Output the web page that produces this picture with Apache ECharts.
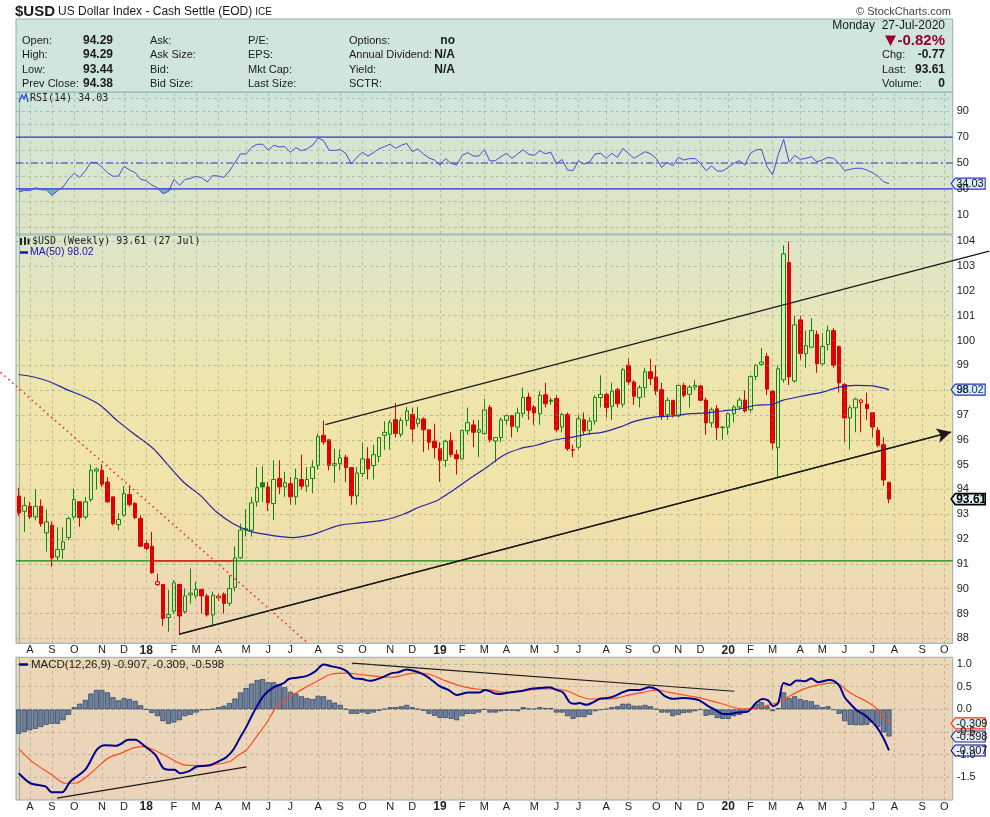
<!DOCTYPE html>
<html><head><meta charset="utf-8">
<script src="https://cdn.jsdelivr.net/npm/echarts@6/dist/echarts.min.js"></script>
<style>html,body{margin:0;padding:0;background:#fff}#c{width:990px;height:817px}</style>
</head><body><div id="c"></div>
<script>
// ---------------- data ----------------
const START_WEEK = [2017, 6, 24];   // Monday 24-Jul-2017 (month is 0-based)
const WEEK_COUNT = 169;             // weekly slots on the axis (through mid Oct 2020)
const MONTH_LETTERS = ['J','F','M','A','M','J','J','A','S','O','N','D'];

// weekly candles: [open, high, low, close]
const weeklyOHLC = [
[93.73,94.07,92.92,93.05],[93.12,93.70,92.29,93.35],[93.32,93.50,92.80,92.89],[92.89,94.00,92.76,93.32],[93.32,93.60,92.50,92.62],
[92.25,93.19,91.49,92.69],[92.56,92.70,90.88,91.24],[91.28,92.47,91.15,91.58],[91.58,92.47,91.20,91.89],[92.06,92.90,91.95,92.83],
[92.89,94.03,92.79,93.59],[93.50,93.50,92.49,92.87],[92.89,93.70,92.80,93.50],[93.59,95.00,93.50,94.77],[94.74,94.88,94.00,94.82],
[94.77,95.00,94.10,94.21],[94.30,94.50,93.45,93.50],[93.70,93.70,92.55,92.62],[92.58,93.03,92.36,92.79],[92.96,94.13,92.90,93.83],
[93.79,94.17,93.30,93.39],[93.43,93.50,92.80,92.87],[92.83,92.96,91.70,91.71],[91.82,91.95,91.55,91.62],[91.71,92.29,90.60,90.64],
[90.17,90.60,90.10,90.28],[90.17,90.17,88.50,88.80],[88.84,89.94,88.27,88.96],[89.10,90.35,89.00,90.24],[90.17,90.20,88.13,88.90],
[89.07,90.00,89.00,89.71],[89.75,90.81,89.40,89.82],[89.71,90.28,89.60,89.97],[89.97,90.00,89.00,89.71],[89.71,89.80,88.87,88.94],
[88.94,89.88,88.47,89.74],[89.63,89.80,89.50,89.70],[89.78,89.85,89.00,89.41],[89.41,90.55,89.30,90.01],[90.05,91.70,89.90,91.24],
[91.24,92.62,91.20,92.36],[92.36,93.20,92.10,92.42],[92.36,93.70,92.10,93.46],[93.50,94.90,93.30,94.07],[94.27,94.94,93.50,94.10],
[94.10,94.30,93.13,93.46],[93.43,95.17,92.76,94.40],[94.44,95.17,93.80,94.10],[94.10,94.70,93.70,94.27],[94.23,94.50,93.38,93.70],
[93.70,94.84,93.38,94.44],[94.40,95.40,94.00,94.13],[94.13,94.90,93.90,94.40],[94.44,95.17,93.84,94.90],[94.97,96.25,94.80,96.14],
[96.18,96.78,95.80,95.91],[96.00,96.00,94.77,94.97],[94.97,95.64,94.27,95.04],[95.04,95.60,94.77,95.27],[95.30,95.40,94.30,94.88],
[94.88,94.90,93.38,93.74],[93.74,94.90,93.38,94.66],[94.64,95.90,94.50,95.23],[95.23,95.70,94.40,94.82],[94.96,95.80,94.40,95.40],
[95.33,96.10,95.10,96.09],[96.18,96.75,95.60,96.30],[96.22,96.80,95.60,96.69],[96.81,97.48,96.10,96.25],[96.22,96.90,96.10,96.78],
[96.78,97.33,96.55,97.16],[97.02,97.30,95.90,96.43],[96.65,97.33,96.50,96.84],[96.84,96.90,95.50,96.40],[96.40,96.40,95.60,95.90],
[95.94,96.65,95.25,95.68],[95.64,95.90,94.30,95.17],[95.17,96.00,94.90,95.94],[95.98,96.30,95.30,95.41],[95.40,95.60,94.60,95.23],
[95.23,96.40,95.20,96.38],[96.36,97.30,96.20,96.69],[96.60,96.80,95.70,96.30],[96.30,96.80,95.30,96.40],[96.25,97.65,96.20,97.20],
[97.30,97.40,95.90,96.00],[95.95,96.10,95.10,96.09],[96.09,96.90,95.90,96.80],[96.78,97.00,96.60,96.97],[96.97,97.00,96.10,96.54],
[96.51,97.30,96.30,97.08],[97.05,98.10,96.90,97.70],[97.72,97.90,96.80,97.19],[97.32,97.40,96.60,97.08],[97.05,97.95,96.60,97.79],
[97.81,98.30,97.30,97.45],[97.60,97.70,97.40,97.55],[97.66,97.80,96.30,96.40],[96.51,97.10,96.30,97.02],[97.02,97.10,95.55,95.64],
[95.58,95.80,95.30,95.60],[95.70,97.00,95.60,96.85],[96.81,97.10,96.20,96.35],[96.38,96.90,96.20,96.75],[96.75,97.80,96.60,97.70],
[97.70,98.60,97.30,97.83],[97.83,97.90,96.90,97.30],[97.35,98.30,96.80,97.96],[98.02,98.10,97.30,97.45],[97.43,98.90,97.30,98.82],
[99.00,99.30,98.20,98.33],[98.33,98.40,97.40,97.75],[97.70,98.20,97.30,98.10],[98.10,98.90,97.70,98.74],[98.74,99.26,98.20,98.46],
[98.53,99.00,97.80,97.96],[98.02,98.30,96.80,96.96],[97.01,97.70,96.80,97.59],[97.59,97.60,96.90,97.01],[96.96,98.20,96.90,98.19],
[98.19,98.30,97.70,97.79],[97.83,98.20,97.30,98.12],[98.12,98.40,98.00,98.19],[98.17,98.20,97.56,97.59],[97.60,97.70,96.20,96.68],
[96.68,97.30,96.50,97.21],[97.25,97.40,96.00,96.49],[96.51,96.55,96.00,96.49],[96.51,97.10,96.20,97.05],[97.05,97.40,96.70,97.32],
[97.32,97.70,97.20,97.60],[97.60,98.00,97.10,97.16],[97.21,98.60,97.10,98.55],[98.55,99.05,98.40,99.00],[99.04,99.70,99.00,99.13],
[99.36,99.50,97.80,98.04],[97.96,98.00,95.60,95.87],[95.68,99.00,94.50,98.86],[98.42,103.83,98.30,103.49],[103.14,103.99,98.20,98.53],
[98.37,101.00,98.30,100.63],[100.83,101.00,99.20,99.47],[99.47,100.40,98.90,99.79],[99.73,100.90,99.70,100.40],[100.24,100.40,98.70,99.06],
[99.06,100.30,99.00,99.76],[99.84,100.60,99.60,100.40],[100.40,100.50,98.90,99.00],[99.76,99.80,97.90,98.29],[98.23,98.30,95.90,96.88],
[96.88,97.40,95.60,97.29],[97.29,97.70,96.30,97.64],[97.50,97.65,96.30,97.60],[97.43,97.90,96.80,97.25],[97.09,97.10,96.10,96.51],
[96.38,96.50,95.70,95.78],[95.80,96.10,94.15,94.38],[94.29,94.29,93.44,93.61]
];

// 50-week moving average, [week index, value]
const ma50 = [[0,98.63],[2.7,98.53],[5.7,98.33],[8.7,98.02],[11.7,97.75],[14.7,97.39],[17.7,96.78],[20.7,96.25],[24.3,95.64],[26.7,95.04],
[29.7,94.30],[32.7,93.77],[35.7,93.09],[38.7,92.62],[41.7,92.32],[44.8,92.18],[47.7,92.09],[49.5,92.06],[52.6,92.16],[54.4,92.29],
[58,92.56],[61.5,92.65],[65.8,92.76],[69.4,93.0],[72.4,93.3],[75.4,93.54],[78.4,93.97],[81.4,94.44],[84.4,94.88],[87.4,95.37],
[90.4,95.64],[93.4,95.78],[96.4,95.98],[99.4,96.09],[102.4,96.22],[105.4,96.31],[108.4,96.51],[111.4,96.76],[115,96.92],[118,96.96],
[121,97.05],[124,97.08],[127,97.16],[130,97.24],[133,97.39],[136,97.43],[137.8,97.59],[142,97.79],[145,97.92],[148,98.12],
[151,98.19],[154,98.17],[157,98.02]];

// RSI(14), one value per week
const rsi14 = [27.5,28.8,28.6,30.9,29.3,29.1,24.9,28.5,31.5,37.6,42.0,38.9,43.8,50.5,50.3,46.9,42.5,39.7,39.9,47.4,
44.6,42.5,37.3,36.3,32.9,30.9,26.2,28.0,37.3,32.7,37.3,38.1,39.7,38.6,35.3,40.2,39.9,38.9,43.8,50.3,
57.0,57.0,62.1,64.5,64.5,59.8,63.7,62.4,62.7,58.3,61.9,59.6,60.9,63.7,69.4,67.3,59.8,59.8,60.3,57.5,
49.2,54.4,58.3,55.4,58.0,61.1,62.7,64.5,61.4,63.7,65.2,58.8,60.9,57.0,53.9,52.3,48.4,53.4,49.7,48.4,
55.9,58.0,55.4,55.4,60.3,51.6,51.8,55.0,57.5,53.6,57.0,60.3,56.7,55.9,59.6,57.2,58.3,49.2,52.8,44.6,
44.1,51.8,49.2,51.0,57.0,57.5,53.6,57.5,54.4,61.4,57.5,53.6,56.2,58.8,57.0,53.6,46.6,50.5,47.7,54.4,
52.3,53.4,53.4,49.7,44.1,47.7,43.8,43.8,46.6,49.7,51.8,48.4,57.5,60.1,60.6,47.2,40.7,56.2,68.3,50.5,
55.9,52.8,53.6,54.9,51.0,52.3,54.4,53.6,49.7,44.1,45.1,45.9,45.9,44.6,42.5,39.9,35.5,34.03];

// MACD(12,26,9): lines as [week index, value], histogram one value per week
const macdLine = [[0,-1.41],[2.1,-1.63],[4.8,-1.70],[6.0,-1.83],[7.8,-1.83],[9.3,-1.59],[12.0,-1.33],[14.1,-0.89],[15.6,-0.79],[17.7,-0.80],
[19.8,-0.67],[21.0,-0.67],[22.8,-0.82],[24.6,-1.00],[26.1,-1.30],[27.0,-1.33],[28.1,-1.33],[29.1,-1.41],[30.9,-1.35],[32.1,-1.26],
[34.2,-1.24],[36.0,-1.15],[37.5,-1.05],[38.7,-0.89],[39.9,-0.63],[41.1,-0.375],[42.3,-0.08],[44.1,0.29],[46.0,0.49],[47.8,0.58],
[48.7,0.67],[50.2,0.70],[52.0,0.74],[53.5,0.84],[55.0,0.99],[56.5,0.95],[58.0,0.91],[59.2,0.84],[60.4,0.69],[61.9,0.67],
[63.4,0.63],[65.2,0.69],[67.3,0.80],[68.5,0.82],[70.0,0.88],[72.1,0.82],[73.6,0.73],[74.8,0.62],[76.0,0.51],[77.5,0.43],
[79.0,0.32],[81.1,0.375],[83.2,0.375],[84.1,0.43],[85.0,0.40],[85.9,0.35],[86.8,0.34],[88.6,0.375],[90.4,0.40],[92.2,0.45],
[94.0,0.47],[95.8,0.49],[97.0,0.43],[98.2,0.375],[99.4,0.155],[100.3,0.125],[101.2,0.14],[102.4,0.10],[103.6,0.155],[104.8,0.235],
[106.3,0.25],[107.8,0.31],[109.0,0.38],[110.2,0.43],[112.0,0.43],[113.8,0.49],[115.3,0.43],[116.5,0.30],[118.0,0.235],[119.8,0.25],
[121.6,0.235],[122.8,0.20],[124.3,0.08],[125.8,-0.02],[127.0,-0.10],[128.2,-0.10],[129.7,-0.07],[131.5,-0.05],[133.0,0.14],[134.2,0.23],
[135.2,0.20],[136.1,0.07],[137.0,0.14],[138.0,0.58],[139.1,0.54],[140.3,0.64],[141.8,0.62],[143.0,0.68],[144.2,0.60],[145.1,0.62],
[146.1,0.65],[147.2,0.62],[148.1,0.51],[149.0,0.27],[150.2,0.10],[151.1,-0.01],[152.9,-0.15],[154.7,-0.375],[155.9,-0.61],[157,-0.907]];
const signalLine = [[0,-0.87],[2.7,-1.18],[5.7,-1.42],[8.4,-1.63],[10.2,-1.63],[12.3,-1.48],[14.7,-1.22],[16.2,-1.07],[18.6,-0.96],[20.7,-0.85],
[22.5,-0.82],[24.3,-0.89],[26.7,-1.04],[29.7,-1.22],[32.1,-1.24],[35.1,-1.22],[38.1,-1.15],[39.3,-1.04],[41.1,-0.89],[42.9,-0.60],
[44.7,-0.30],[46.6,0.07],[49.0,0.29],[50.8,0.42],[53.8,0.62],[56.2,0.77],[59.2,0.80],[61.6,0.77],[64.6,0.73],[67.3,0.71],
[68.8,0.74],[71.2,0.80],[74.2,0.77],[76.6,0.65],[79.6,0.52],[82.6,0.45],[85.0,0.43],[87.4,0.38],[89.8,0.40],[92.2,0.43],
[94.6,0.45],[97.0,0.45],[99.1,0.40],[101.2,0.29],[103.0,0.23],[105.4,0.23],[107.8,0.25],[110.2,0.32],[112.6,0.375],[115.0,0.43],
[117.4,0.375],[119.8,0.32],[122.2,0.27],[124.6,0.20],[127.0,0.12],[129.4,0.03],[131.2,0.01],[133.0,0.03],[134.8,0.08],[136.7,0.14],
[138.5,0.25],[140.3,0.375],[142.1,0.47],[144.2,0.54],[146.3,0.58],[147.8,0.57],[149.3,0.43],[151.1,0.29],[152.9,0.18],[154.7,0.03],
[155.9,-0.15],[157,-0.309]];
const macdHist = [-0.54,-0.50,-0.46,-0.43,-0.39,-0.34,-0.32,-0.32,-0.24,-0.12,
0.05,0.125,0.21,0.35,0.43,0.43,0.375,0.27,0.20,0.25,
0.23,0.19,0.09,0.0,-0.08,-0.15,-0.26,-0.32,-0.29,-0.24,
-0.15,-0.12,-0.07,-0.02,-0.01,0.01,0.05,0.08,0.14,0.24,
0.375,0.47,0.57,0.65,0.67,0.60,0.60,0.55,0.49,0.39,
0.35,0.29,0.25,0.23,0.30,0.29,0.21,0.15,0.10,0.01,
-0.10,-0.10,-0.07,-0.10,-0.07,-0.03,0.01,0.05,0.05,0.07,
0.10,0.05,0.01,-0.03,-0.10,-0.14,-0.19,-0.19,-0.21,-0.24,
-0.15,-0.10,-0.10,-0.07,0.0,-0.07,-0.07,-0.04,-0.03,-0.03,
-0.04,0.05,0.02,0.01,0.05,0.03,0.03,-0.07,-0.07,-0.15,
-0.21,-0.17,-0.17,-0.12,-0.04,-0.01,0.01,0.05,0.07,0.125,
0.125,0.08,0.08,0.10,0.07,0.01,-0.07,-0.07,-0.15,-0.12,
-0.08,-0.07,-0.04,-0.01,-0.14,-0.12,-0.19,-0.21,-0.21,-0.15,
-0.12,-0.07,0.03,0.125,0.16,0.07,-0.04,0.03,0.375,0.25,
0.29,0.23,0.20,0.18,0.10,0.05,0.07,-0.01,-0.10,-0.26,
-0.34,-0.35,-0.35,-0.34,-0.29,-0.39,-0.51,-0.598];

// drawn annotations, endpoints as [week index, value]
const priceLevel = 91.12;
const redLevel = [[24, 91.12],[38.7, 91.12]];
const downTrendDotted = [[-3.3, 98.72],[52.2, 87.8]];
const channelUpper = [[55.3, 96.61],[175.1, 103.6]];
const channelLower = [[29, 88.17],[168.2, 96.31]];
const macdTrendLow = [[6.9, -1.96],[41.1, -1.27]];
const macdTrendHigh = [[60.1, 1.02],[129.1, 0.40]];
const rsiBands = {upper: 70, mid: 50, lower: 30};

// axis tick labels
const priceTicks = [88,89,90,91,92,93,94,95,96,97,98,99,100,101,102,103,104];
const rsiTicks = [10,30,50,70,90];
const rsiGrid = [0,10,20,30,40,50,60,70,80,90,100];
const macdTicks = [1.0,0.5,0.0,-0.5,-1.0,-1.5];

// header values
const header = {open:'94.29', high:'94.29', low:'93.44', prev:'94.38', date:'Monday  27-Jul-2020',
  pct:'-0.82%', chg:'-0.77', last:'93.61', volume:'0', rsi:'34.03', ma:'98.02',
  macd:'-0.907', signal:'-0.309', hist:'-0.598'};

// ---------------- layout ----------------
const L = 16, R = 37.3;
const PLOT_R = 990 - R;
const G_RSI = {top: 92, height: 142};
const G_PX = {top: 235, height: 408.3};
const G_MACD = {top: 657.3, height: 142.7};
const FONT = '"Liberation Sans", Arial, sans-serif';
const MONO = '"DejaVu Sans Mono", "Liberation Mono", monospace';

// categories (weekly Mondays)
const categories = [], monthStart = [], monthLabel = [];
for (let i = 0; i < WEEK_COUNT; i++) {
  const d = new Date(Date.UTC(START_WEEK[0], START_WEEK[1], START_WEEK[2] + 7 * i));
  categories.push(d.toISOString().slice(0, 10));
  let lab = '';
  if (i > 0) {
    const p = new Date(Date.UTC(START_WEEK[0], START_WEEK[1], START_WEEK[2] + 7 * (i - 1)));
    if (p.getUTCMonth() !== d.getUTCMonth()) {
      const m = d.getUTCMonth();
      lab = m === 0 ? '{y|' + String(d.getUTCFullYear()).slice(2) + '}' : MONTH_LETTERS[m];
    }
  }
  monthStart.push(lab !== '');
  monthLabel.push(lab);
}
const monthIdx = monthStart.map((v, i) => v ? i : -1).filter(i => i >= 0);
const X_MIN = -0.5, X_MAX = WEEK_COUNT - 0.5;

const gridLineStyle = {color: 'rgba(110,140,120,0.42)', type: [3, 3], width: 1};

function catAxis(gridIndex, showLabels) {
  return {type: 'category', gridIndex, data: categories, boundaryGap: true,
    axisLine: {show: false}, axisTick: {show: false}, splitLine: {show: false},
    axisLabel: {show: showLabels, interval: (i) => monthStart[i], formatter: (v, i) => monthLabel[i],
      margin: 1, color: '#222', fontFamily: FONT, fontSize: 11,
      rich: {y: {fontWeight: 'bold', fontSize: 12, color: '#222', fontFamily: FONT}}}};
}
function valAxisX(gridIndex) {
  return {type: 'value', gridIndex, min: X_MIN, max: X_MAX, show: false};
}
function yAxisCfg(gridIndex, min, max, interval, ticks, fmt) {
  return {type: 'value', gridIndex, position: 'right', min, max, interval, scale: false,
    axisLine: {show: true, lineStyle: {color: '#8fb0b0'}}, axisTick: {show: false}, splitLine: {show: false},
    axisLabel: {margin: 4, color: '#222', fontFamily: FONT, fontSize: 11, showMinLabel: true, showMaxLabel: true,
      formatter: (v) => { const t = ticks.find(k => Math.abs(k - v) < 1e-6); return t === undefined ? '' : fmt(t); }}};
}
function gridSeries(xAxisIndex, yAxisIndex, yValues) {
  return {type: 'line', xAxisIndex, yAxisIndex, data: [], silent: true, z: 1,
    markLine: {silent: true, symbol: 'none', animation: false, label: {show: false}, lineStyle: gridLineStyle,
      data: yValues.map(v => ({yAxis: v})).concat(monthIdx.map(i => ({xAxis: i})))}};
}
function seg(xAxisIndex, yAxisIndex, data, style, extra) {
  return Object.assign({type: 'line', xAxisIndex, yAxisIndex, data, showSymbol: false, symbol: 'none',
    silent: true, lineStyle: style, itemStyle: {color: style.color}, z: 4}, extra || {});
}
const hLine = (v) => [[X_MIN, v], [X_MAX, v]];

// candles with StockCharts colouring
const GREEN = '#0a8a0a', RED = '#e00000';
const candleData = weeklyOHLC.map((r, i) => {
  const [o, h, l, c] = r;
  const prev = i > 0 ? weeklyOHLC[i - 1][3] : o;
  const col = c >= prev ? GREEN : RED;
  const fill = c >= o ? 'rgba(0,0,0,0)' : col;
  return {value: [o, c, l, h], itemStyle: {color: fill, color0: fill, borderColor: col, borderColor0: col, borderColorDoji: col, borderWidth: 1}};
});

const bg = (stops) => ({type: 'linear', x: 0, y: 0, x2: 0, y2: 1, colorStops: stops});
const RSI_REF = '#3030cc';

const option = {
  animation: false,
  backgroundColor: '#ffffff',
  grid: [
    Object.assign({left: L, right: R, show: true, borderColor: '#8fb0b0', borderWidth: 1, containLabel: false, outerBoundsMode: 'none',
      backgroundColor: bg([{offset: 0, color: '#cfe6dc'}, {offset: 1, color: '#dfe4c2'}])}, G_RSI),
    Object.assign({left: L, right: R, show: true, borderColor: '#8fb0b0', borderWidth: 1, containLabel: false, outerBoundsMode: 'none',
      backgroundColor: bg([{offset: 0, color: '#dde6ca'}, {offset: 0.35, color: '#eee5ae'}, {offset: 0.6, color: '#f1e4a8'}, {offset: 0.8, color: '#eedcb0'}, {offset: 1, color: '#ecd6b8'}])}, G_PX),
    Object.assign({left: L, right: R, show: true, borderColor: '#8fb0b0', borderWidth: 1, containLabel: false, outerBoundsMode: 'none',
      backgroundColor: bg([{offset: 0, color: '#ecd7b6'}, {offset: 1, color: '#ebd3ba'}])}, G_MACD)
  ],
  xAxis: [catAxis(0, false), valAxisX(0), catAxis(1, true), valAxisX(1), catAxis(2, true), valAxisX(2)],
  yAxis: [
    yAxisCfg(0, -5, 105, 5, rsiTicks, t => String(t)),
    yAxisCfg(1, 87.8, 104.25, 0.05, priceTicks, t => String(t)),
    yAxisCfg(2, -2.0, 1.15, 0.05, macdTicks, t => t.toFixed(1))
  ],
  series: [
    // ---- RSI ----
    gridSeries(1, 0, rsiGrid),
    seg(1, 0, hLine(rsiBands.upper), {color: RSI_REF, width: 1.2}, {z: 2}),
    seg(1, 0, hLine(rsiBands.lower), {color: RSI_REF, width: 1.2}, {z: 2}),
    seg(1, 0, hLine(rsiBands.mid), {color: RSI_REF, width: 1.2, type: [7, 3, 2, 3]}, {z: 2}),
    {type: 'line', xAxisIndex: 0, yAxisIndex: 0, data: rsi14.map(v => Math.min(v, 30)), showSymbol: false, symbol: 'none',
      lineStyle: {width: 0, opacity: 0}, areaStyle: {origin: 30, color: '#63b2c2', opacity: 0.9}, silent: true, z: 2},
    {type: 'line', xAxisIndex: 0, yAxisIndex: 0, data: rsi14, showSymbol: false, symbol: 'none', silent: true, z: 3,
      lineStyle: {color: '#4747dd', width: 1}},
    // ---- price ----
    gridSeries(3, 1, priceTicks),
    seg(3, 1, hLine(priceLevel), {color: '#108810', width: 1.3}, {z: 2}),
    {type: 'candlestick', xAxisIndex: 2, yAxisIndex: 1, data: candleData, barWidth: 4, silent: true, z: 3},
    {type: 'line', xAxisIndex: 3, yAxisIndex: 1, data: ma50, showSymbol: false, symbol: 'none', smooth: 0.3, silent: true, z: 4,
      lineStyle: {color: '#2424a8', width: 1.2}},
    seg(3, 1, redLevel, {color: '#ee1111', width: 1.3}),
    seg(3, 1, channelLower, {color: '#1a1a1a', width: 1.3}, {
      markLine: {silent: true, symbol: ['none', 'arrow'], symbolSize: [11, 14], label: {show: false}, animation: false,
        lineStyle: {color: '#1a1a1a', width: 1.3, type: 'solid'},
        data: [[{coord: channelLower[0]}, {coord: channelLower[1]}]]}}),
    // ---- MACD ----
    gridSeries(5, 2, macdTicks),
    {type: 'bar', xAxisIndex: 4, yAxisIndex: 2, data: macdHist, barCategoryGap: '8%', silent: true, z: 2,
      itemStyle: {color: '#6e809b', borderColor: '#34476b', borderWidth: 0.8}},
    {type: 'line', xAxisIndex: 5, yAxisIndex: 2, data: signalLine, showSymbol: false, symbol: 'none', smooth: 0.3, silent: true, z: 4,
      lineStyle: {color: '#ff4a1a', width: 1.2}},
    {type: 'line', xAxisIndex: 5, yAxisIndex: 2, data: macdLine, showSymbol: false, symbol: 'none', smooth: 0.3, silent: true, z: 5,
      lineStyle: {color: '#000090', width: 2}},
    seg(5, 2, macdTrendLow, {color: '#1a1a1a', width: 1.2}),
    seg(5, 2, macdTrendHigh, {color: '#1a1a1a', width: 1.2})
  ]
};

const chart = echarts.init(document.getElementById('c'), null, {renderer: 'canvas'});
chart.setOption(option);

// ---------------- header, labels, value tags ----------------
function txt(x, y, text, o) {
  o = o || {};
  return {type: 'text', silent: true, z: 100, style: {x, y, text, fill: o.fill || '#1a1a1a',
    font: o.font || ('11px ' + FONT), textAlign: o.align || 'left', align: o.align || 'left',
    textVerticalAlign: 'middle', verticalAlign: 'middle', rich: o.rich}};
}
function tag(yPx, text, border, fill, color, bold) {
  const x0 = PLOT_R - 1.5, w = 34, h = 5.5;
  return {type: 'group', silent: true, z: 110, children: [
    {type: 'polygon', shape: {points: [[x0, yPx], [x0 + 4, yPx - h], [x0 + w, yPx - h], [x0 + w, yPx + h], [x0 + 4, yPx + h]]},
      style: {fill, stroke: border, lineWidth: bold ? 1.6 : 1.1}},
    {type: 'text', style: {x: x0 + 5, y: yPx + 0.5, text, fill: color, font: (bold ? 'bold 12px ' : '11px ') + FONT,
      textAlign: 'left', align: 'left', textVerticalAlign: 'middle', verticalAlign: 'middle'}}]};
}
// extended annotation lines (mapped through the price panel's scales; they run past the plot edges)
function dataLine(xAx, yAx, pts, style) {
  const p = pts.map(q => [chart.convertToPixel({xAxisIndex: xAx}, q[0]), chart.convertToPixel({yAxisIndex: yAx}, q[1])]);
  return {type: 'line', silent: true, z: 60, shape: {x1: p[0][0], y1: p[0][1], x2: p[1][0], y2: p[1][1]}, style};
}
const g = [];
g.push(dataLine(3, 1, downTrendDotted, {stroke: '#ee3333', lineWidth: 1.6, lineDash: [1.6, 3.6]}));
g.push(dataLine(3, 1, channelUpper, {stroke: '#1a1a1a', lineWidth: 1.3}));
// header
g.push(txt(15, 12, '{a|$USD} {b|US Dollar Index - Cash Settle (EOD)} {c|ICE}', {rich: {
  a: {fontWeight: 'bold', fontSize: 15, fontFamily: FONT, color: '#1a1a1a'},
  b: {fontSize: 12, fontFamily: FONT, color: '#1a1a1a'},
  c: {fontSize: 10, fontFamily: FONT, color: '#1a1a1a'}}}));
g.push(txt(951, 12, '© StockCharts.com', {align: 'right', fill: '#444', font: '11px ' + FONT}));
g.push({type: 'rect', silent: true, z: 90, shape: {x: L, y: 19, width: PLOT_R - L, height: 73}, style: {fill: '#cfe6dc', stroke: '#8fb0b0', lineWidth: 1}});
const rows = [41, 55, 70, 84];
const c1 = ['Open:', 'High:', 'Low:', 'Prev Close:'], v1 = [header.open, header.high, header.low, header.prev];
const c2 = ['Ask:', 'Ask Size:', 'Bid:', 'Bid Size:'], c3 = ['P/E:', 'EPS:', 'Mkt Cap:', 'Last Size:'];
const c4 = ['Options:', 'Annual Dividend:', 'Yield:', 'SCTR:'], v4 = ['no', 'N/A', 'N/A', ''];
rows.forEach((y, i) => {
  g.push(txt(22, y, c1[i]));
  g.push(txt(113, y, v1[i], {align: 'right', font: 'bold 12px ' + FONT}));
  g.push(txt(150, y, c2[i]));
  g.push(txt(248, y, c3[i]));
  g.push(txt(349, y, c4[i]));
  if (v4[i]) g.push(txt(455, y, v4[i], {align: 'right', font: 'bold 12px ' + FONT}));
});
g.push(txt(945, 26, header.date, {align: 'right', font: '12px ' + FONT}));
g.push({type: 'polygon', silent: true, z: 100, shape: {points: [[885, 35.5], [896, 35.5], [890.5, 46]]}, style: {fill: '#990033'}});
g.push(txt(945, 41, header.pct, {align: 'right', font: 'bold 15px ' + FONT, fill: '#990033'}));
g.push(txt(882, 55, 'Chg:')); g.push(txt(945, 55, header.chg, {align: 'right', font: 'bold 12px ' + FONT}));
g.push(txt(882, 70, 'Last:')); g.push(txt(945, 70, header.last, {align: 'right', font: 'bold 12px ' + FONT}));
g.push(txt(882, 84, 'Volume:')); g.push(txt(945, 84, header.volume, {align: 'right', font: 'bold 12px ' + FONT}));
// RSI label
g.push({type: 'polyline', silent: true, z: 100, shape: {points: [[19, 102], [22, 95], [24, 99], [26, 94], [28, 102]]}, style: {stroke: '#2244dd', lineWidth: 1.2, fill: 'none'}});
g.push(txt(30, 98.5, 'RSI(14) ' + header.rsi, {font: '10px ' + MONO, fill: '#222'}));
// price labels
g.push({type: 'rect', silent: true, z: 100, shape: {x: 20, y: 238, width: 2, height: 7}, style: {fill: '#222'}});
g.push({type: 'rect', silent: true, z: 100, shape: {x: 24, y: 237, width: 2, height: 8}, style: {fill: '#222'}});
g.push({type: 'rect', silent: true, z: 100, shape: {x: 27.5, y: 238.5, width: 2, height: 6}, style: {fill: '#222'}});
g.push(txt(32, 241.5, '$USD (Weekly) ' + header.last + ' (27 Jul)', {font: '10px ' + MONO, fill: '#222'}));
g.push({type: 'line', silent: true, z: 100, shape: {x1: 20, y1: 252.5, x2: 28, y2: 252.5}, style: {stroke: '#1a1aaa', lineWidth: 2.5}});
g.push(txt(30, 252.5, 'MA(50) ' + header.ma, {font: '10.5px ' + FONT, fill: '#1a1aaa'}));
// MACD label
g.push({type: 'line', silent: true, z: 100, shape: {x1: 19, y1: 664.5, x2: 28, y2: 664.5}, style: {stroke: '#000090', lineWidth: 2.5}});
g.push(txt(31, 665, '{a|MACD(12,26,9)} {b|' + header.macd + ',} {c|' + header.signal + ',} {d|' + header.hist + '}', {rich: {
  a: {fontSize: 11.5, fontFamily: FONT, color: '#1a1a1a'},
  b: {fontSize: 11.5, fontFamily: FONT, color: '#000090'},
  c: {fontSize: 11.5, fontFamily: FONT, color: '#ff3300'},
  d: {fontSize: 11.5, fontFamily: FONT, color: '#4a5a7a'}}}));
// value tags on the right axis
const yPx = (ax, v) => chart.convertToPixel({yAxisIndex: ax}, v);
g.push(tag(yPx(0, parseFloat(header.rsi)), header.rsi, '#3333cc', '#d9f0f6', '#111', false));
g.push(tag(yPx(1, parseFloat(header.ma)), header.ma, '#2233aa', '#d9f0f6', '#1a2a9a', false));
g.push(tag(yPx(1, parseFloat(header.last)), header.last, '#000000', '#dff3f8', '#000', true));
g.push(tag(yPx(2, parseFloat(header.signal)), header.signal, '#ff3300', '#d9f0f6', '#111', false));
g.push(tag(yPx(2, parseFloat(header.hist)), header.hist, '#1a2a6a', '#e6eef8', '#111', false));
g.push(tag(yPx(2, parseFloat(header.macd)), header.macd, '#000080', '#e6eef8', '#111', false));
chart.setOption({graphic: g});
</script>
</body></html>
